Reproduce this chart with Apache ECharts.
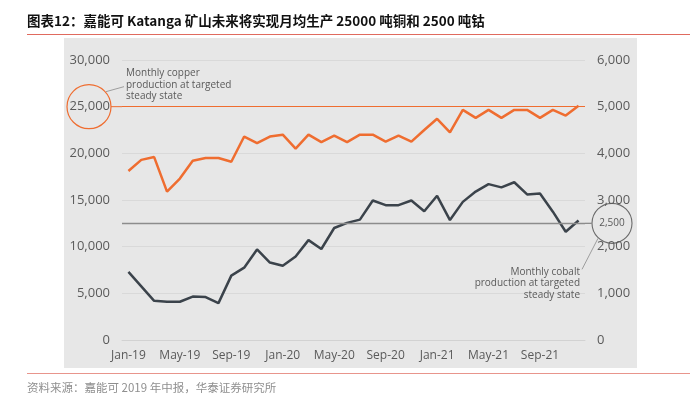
<!DOCTYPE html>
<html><head><meta charset="utf-8">
<script src="https://cdn.jsdelivr.net/npm/echarts@6/dist/echarts.min.js"></script>
<style>html,body{margin:0;padding:0;background:#fff}#c{width:700px;height:410px}</style>
</head><body><div id="c"></div>
<script>
const categories = ["Jan-19","Feb-19","Mar-19","Apr-19","May-19","Jun-19","Jul-19","Aug-19","Sep-19","Oct-19","Nov-19","Dec-19",
"Jan-20","Feb-20","Mar-20","Apr-20","May-20","Jun-20","Jul-20","Aug-20","Sep-20","Oct-20","Nov-20","Dec-20",
"Jan-21","Feb-21","Mar-21","Apr-21","May-21","Jun-21","Jul-21","Aug-21","Sep-21","Oct-21","Nov-21","Dec-21"];
const copper = [18100,19300,19600,15900,17300,19200,19500,19500,19100,21800,21100,21800,
22000,20500,22000,21200,21900,21200,22000,22000,21250,21900,21250,22500,
23700,22250,24650,23800,24650,23800,24650,24650,23800,24650,24050,25100];
const cobalt = [1460,1150,840,820,820,930,920,790,1380,1550,1940,1660,
1590,1790,2140,1950,2400,2510,2580,2990,2890,2890,2990,2760,
3090,2570,2960,3180,3340,3270,3380,3120,3140,2750,2320,2560];
const copperTarget = 25000;
const cobaltTarget = 2500;
const leftTicks = {min:0, max:30000, interval:5000};
const rightTicks = {min:0, max:6000, interval:1000};
const titleText = "图表12：嘉能可 Katanga 矿山未来将实现月均生产 25000 吨铜和 2500 吨钴";
const sourceText = "资料来源：嘉能可 2019 年中报，华泰证券研究所";
const copperNote = "Monthly copper\nproduction at targeted\nsteady state";
const cobaltNote = "Monthly cobalt\nproduction at targeted\nsteady state";

const ORANGE = "#ef6d30", DARK = "#3b434b", LBL = "#5a5a5a";
const fmt = v => v.toLocaleString("en-US");
const chart = echarts.init(document.getElementById("c"), null, {renderer:"canvas"});
const font = "'Open Sans', Lato, sans-serif";
chart.setOption({
  animation:false,
  grid:{left:122, right:115, top:60, bottom:70},
  xAxis:{type:"category", data:categories, boundaryGap:true,
    axisLine:{lineStyle:{color:"#d2d2d2"}},
    axisTick:{interval:3, lineStyle:{color:"#d2d2d2"}, length:4},
    axisLabel:{interval:3, color:LBL, fontSize:12, fontFamily:font, margin:10}},
  yAxis:[
    {type:"value", min:leftTicks.min, max:leftTicks.max, interval:leftTicks.interval,
     axisLabel:{color:LBL, fontSize:13, fontFamily:font, margin:12, formatter:fmt},
     axisLine:{show:false}, axisTick:{show:false},
     splitLine:{lineStyle:{color:"#d9d9d9"}}},
    {type:"value", min:rightTicks.min, max:rightTicks.max, interval:rightTicks.interval,
     axisLabel:{color:LBL, fontSize:13, fontFamily:font, margin:12, formatter:fmt},
     axisLine:{show:false}, axisTick:{show:false}, splitLine:{show:false}}
  ],
  series:[
    {name:"Copper", type:"line", yAxisIndex:0, data:copper, symbol:"none",
     lineStyle:{color:ORANGE, width:2.5}, z:3,
     markLine:{silent:true, symbol:"none", label:{show:false},
       lineStyle:{color:ORANGE, width:1, type:"solid"}, data:[{yAxis:copperTarget}]}},
    {name:"Cobalt", type:"line", yAxisIndex:1, data:cobalt, symbol:"none",
     lineStyle:{color:DARK, width:2.5}, z:3,
     markLine:{silent:true, symbol:"none", label:{show:false},
       lineStyle:{color:"#8c8c8c", width:1.3, type:"solid"}, data:[{yAxis:cobaltTarget}]}}
  ]
});

const yC = chart.convertToPixel({yAxisIndex:0}, copperTarget);
const yK = chart.convertToPixel({yAxisIndex:1}, cobaltTarget);
const gridRight = 700 - 115, gridLeft = 122;
chart.setOption({graphic:[
  {type:"rect", silent:true, z:-100, shape:{x:64, y:38, width:573, height:330}, style:{fill:"#e7e7e7"}},
  {type:"text", left:27, top:14, style:{text:titleText, fontSize:13.5, fontWeight:"bold",
    fontFamily:"'Noto Sans CJK SC', sans-serif", fill:"#111"}},
  {type:"line", silent:true, shape:{x1:27, y1:34.5, x2:690, y2:34.5}, style:{stroke:"#e06a5e", lineWidth:1.2}},
  {type:"line", silent:true, shape:{x1:27, y1:373.5, x2:690, y2:373.5}, style:{stroke:"#e8958c", lineWidth:1.2}},
  {type:"text", left:27, top:382, style:{text:sourceText, fontSize:11.5,
    fontFamily:"'Noto Sans CJK SC', sans-serif", fill:"#8f8f8f"}},
  {type:"ellipse", silent:true, shape:{cx:89, cy:yC, rx:22, ry:22}, style:{fill:"none", stroke:ORANGE, lineWidth:1.2}},
  {type:"line", silent:true, shape:{x1:111, y1:yC, x2:gridLeft, y2:yC}, style:{stroke:ORANGE, lineWidth:1}},
  {type:"line", silent:true, shape:{x1:106, y1:yC-15, x2:124, y2:yC-20}, style:{stroke:"#8a8a8a", lineWidth:0.8}},
  {type:"text", x:126, y:yC-39, style:{text:copperNote, fontSize:10, lineHeight:11.5, fontFamily:font, fill:LBL}},
  {type:"circle", silent:true, shape:{cx:612, cy:yK, r:20}, style:{fill:"none", stroke:"#6a6a6a", lineWidth:1.1}},
  {type:"line", silent:true, shape:{x1:gridRight, y1:yK, x2:592, y2:yK}, style:{stroke:"#8c8c8c", lineWidth:1.3}},
  {type:"text", x:612, y:yK, style:{text:"2,500", fontSize:10, fontFamily:font, fill:LBL, align:"center", verticalAlign:"middle"}},
  {type:"line", silent:true, shape:{x1:598, y1:yK+15, x2:582, y2:yK+46}, style:{stroke:"#8a8a8a", lineWidth:0.8}},
  {type:"text", x:580, y:yK+43, style:{text:cobaltNote, fontSize:10, lineHeight:11.5, fontFamily:font, fill:LBL, align:"right"}}
]});
</script></body></html>
